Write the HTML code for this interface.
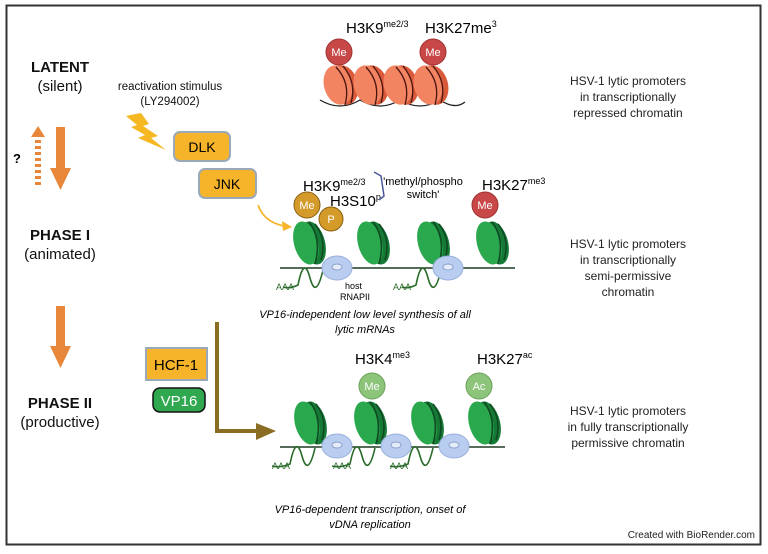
<!DOCTYPE html>
<html><head><meta charset="utf-8"><style>
html,body{margin:0;padding:0;background:#fff;}
svg{display:block;font-family:"Liberation Sans",sans-serif;}
</style></head><body>
<svg width="768" height="554" viewBox="0 0 768 554" xmlns="http://www.w3.org/2000/svg">
<defs>
<g id="nucg">
<ellipse cx="7" cy="0" rx="12" ry="22" fill="#157a35" transform="rotate(-15 7 0)"/>
<ellipse cx="0" cy="0" rx="12" ry="22" fill="#2aa84e" transform="rotate(-15 0 0)"/>
<path d="M3,-21 Q16,-4 9,21" stroke="#0f4a22" stroke-width="1.6" fill="none"/>
<path d="M9,-19 Q21,-4 15,17" stroke="#0f4a22" stroke-width="1.6" fill="none"/>
</g>
<g id="nuco">
<ellipse cx="6" cy="0" rx="14" ry="20" fill="#d85a3a" transform="rotate(-15 6 0)"/>
<ellipse cx="0" cy="0" rx="14" ry="20" fill="#f28462" transform="rotate(-15)"/>
<path d="M-2,-18 Q13,-2 7,20" stroke="#4a1510" stroke-width="1.3" fill="none"/>
<path d="M5,-19 Q19,-2 13,18" stroke="#4a1510" stroke-width="1.3" fill="none"/>
</g>
<g id="pol">
<ellipse cx="0" cy="0" rx="15" ry="12" fill="#b8cdf0" stroke="#9ab0dc" stroke-width="1"/>
<ellipse cx="0" cy="-1" rx="5" ry="3" fill="#e4ecfa" stroke="#8aa0cc" stroke-width="1"/>
</g>
</defs>
<rect x="6.5" y="5.5" width="754" height="539" fill="#fff" stroke="#333" stroke-width="2"/>

<g text-anchor="middle" fill="#111">
<text x="60" y="72" font-size="15" font-weight="bold">LATENT</text>
<text x="60" y="91" font-size="15">(silent)</text>
<text x="60" y="240" font-size="15" font-weight="bold">PHASE I</text>
<text x="60" y="259" font-size="15">(animated)</text>
<text x="60" y="408" font-size="15" font-weight="bold">PHASE II</text>
<text x="60" y="427" font-size="15">(productive)</text>
<text x="170" y="90" font-size="11.5">reactivation stimulus</text>
<text x="170" y="105" font-size="11.5">(LY294002)</text>
</g>
<text x="13" y="163" font-size="13" font-weight="bold">?</text>
<rect x="56" y="127" width="9" height="42" fill="#e8873a"/>
<polygon points="50,168 71,168 60.5,190" fill="#e8873a"/>
<polygon points="38,126 31,137 45,137" fill="#e8873a"/>
<line x1="38" y1="140" x2="38" y2="188" stroke="#e8873a" stroke-width="6" stroke-dasharray="3,3"/>
<rect x="56" y="306" width="9" height="42" fill="#e8873a"/>
<polygon points="50,346 71,346 60.5,368" fill="#e8873a"/>
<polygon points="126,116 141,113 149,124 143,126 158,136 151,138 166,150 138,138 145,135 131,127 137,125" fill="#f5b822"/>
<rect x="174" y="132" width="56" height="29" rx="6" fill="#f5b42a" stroke="#9aa8b8" stroke-width="2"/>
<text x="202" y="152" font-size="14" text-anchor="middle">DLK</text>
<rect x="199" y="169" width="57" height="29" rx="6" fill="#f5b42a" stroke="#9aa8b8" stroke-width="2"/>
<text x="227" y="189" font-size="14" text-anchor="middle">JNK</text>
<path d="M258,205 Q264,222 284,226" stroke="#f5b42a" stroke-width="1.8" fill="none"/>
<polygon points="292,227 282,221 283,231" fill="#f5b42a"/>
<rect x="146" y="348" width="61" height="32" fill="#f5b42a" stroke="#9aa8b8" stroke-width="2"/>
<text x="176" y="370" font-size="15" text-anchor="middle">HCF-1</text>
<rect x="153" y="388" width="52" height="24" rx="7" fill="#2fa84f" stroke="#111" stroke-width="1.5"/>
<text x="179" y="406" font-size="15" text-anchor="middle" fill="#fff">VP16</text>
<path d="M217,322 V431 H258" stroke="#8a6d22" stroke-width="4" fill="none"/>
<polygon points="256,423 276,431 256,440" fill="#8a6d22"/>

<path d="M320,100 Q340,112 360,100 Q380,112 400,100 Q420,112 440,100 Q455,110 465,102" stroke="#222" stroke-width="1.3" fill="none"/>
<use href="#nuco" x="338" y="85"/>
<use href="#nuco" x="368" y="85"/>
<use href="#nuco" x="398" y="85"/>
<use href="#nuco" x="428" y="85"/>
<circle cx="339" cy="52" r="13" fill="#c84848" stroke="#a03030"/>
<text x="339" y="56" font-size="11" fill="#fff" text-anchor="middle">Me</text>
<circle cx="433" cy="52" r="13" fill="#c84848" stroke="#a03030"/>
<text x="433" y="56" font-size="11" fill="#fff" text-anchor="middle">Me</text>
<text x="346" y="33" font-size="15">H3K9<tspan font-size="9" dy="-6">me2/3</tspan></text>
<text x="425" y="33" font-size="15">H3K27me<tspan font-size="9" dy="-6">3</tspan></text>

<g font-size="12" text-anchor="middle" fill="#222">
<text x="628" y="85">HSV-1 lytic promoters</text>
<text x="628" y="101">in transcriptionally</text>
<text x="628" y="117">repressed chromatin</text>
<text x="628" y="248">HSV-1 lytic promoters</text>
<text x="628" y="264">in transcriptionally</text>
<text x="628" y="280">semi-permissive</text>
<text x="628" y="296">chromatin</text>
<text x="628" y="415">HSV-1 lytic promoters</text>
<text x="628" y="431">in fully transcriptionally</text>
<text x="628" y="447">permissive chromatin</text>
<text x="755" y="538" font-size="10" text-anchor="end">Created with BioRender.com</text>
</g>

<path d="M280,268 H515" stroke="#1f3a22" stroke-width="1.6" fill="none"/>
<path d="M283,287 Q290,289 298,285 Q304,255 310,278 Q316,300 323,270" stroke="#2a6a2a" stroke-width="1.6" fill="none"/>
<path d="M402,287 Q408,289 416,285 Q422,255 428,278 Q434,300 441,270" stroke="#2a6a2a" stroke-width="1.6" fill="none"/>
<use href="#nucg" x="306" y="243"/>
<use href="#nucg" x="370" y="243"/>
<use href="#nucg" x="430" y="243"/>
<use href="#nucg" x="489" y="243"/>
<use href="#pol" x="337" y="268"/>
<use href="#pol" x="448" y="268"/>
<text x="276" y="290" font-size="9" fill="#2a6a2a">AAA</text>
<text x="393" y="290" font-size="9" fill="#2a6a2a">AAA</text>
<text x="345" y="289" font-size="9">host</text>
<text x="340" y="300" font-size="9">RNAPII</text>
<circle cx="307" cy="205" r="13" fill="#d49a2a" stroke="#8a6010"/>
<text x="307" y="209" font-size="11" fill="#fff" text-anchor="middle">Me</text>
<circle cx="331" cy="219" r="12" fill="#d49a2a" stroke="#8a6010"/>
<text x="331" y="223" font-size="11" fill="#fff" text-anchor="middle">P</text>
<circle cx="485" cy="205" r="13" fill="#c84848" stroke="#a03030"/>
<text x="485" y="209" font-size="11" fill="#fff" text-anchor="middle">Me</text>
<text x="303" y="191" font-size="15">H3K9<tspan font-size="9" dy="-6">me2/3</tspan></text>
<text x="330" y="206" font-size="15">H3S10<tspan font-size="9" dy="-6">p</tspan></text>
<path d="M374,172 L381,176 L384,196 L379,200" stroke="#4a5a9a" stroke-width="1.5" fill="none"/>
<text x="423" y="185" font-size="11" text-anchor="middle">'methyl/phospho</text>
<text x="423" y="198" font-size="11" text-anchor="middle">switch'</text>
<text x="482" y="190" font-size="15">H3K27<tspan font-size="9" dy="-6">me3</tspan></text>
<text x="365" y="318" font-size="11" font-style="italic" text-anchor="middle">VP16-independent low level synthesis of all</text>
<text x="365" y="333" font-size="11" font-style="italic" text-anchor="middle">lytic mRNAs</text>

<path d="M280,447 H505" stroke="#1f3a22" stroke-width="1.6" fill="none"/>
<path d="M272,466 Q280,468 290,464 Q296,434 302,456 Q308,478 315,448" stroke="#2a6a2a" stroke-width="1.6" fill="none"/>
<path d="M332,466 Q340,468 350,464 Q356,434 362,456 Q368,478 375,448" stroke="#2a6a2a" stroke-width="1.6" fill="none"/>
<path d="M390,466 Q398,468 408,464 Q414,434 420,456 Q426,478 433,448" stroke="#2a6a2a" stroke-width="1.6" fill="none"/>
<use href="#nucg" x="307" y="423"/>
<use href="#nucg" x="367" y="423"/>
<use href="#nucg" x="424" y="423"/>
<use href="#nucg" x="481" y="423"/>
<use href="#pol" x="337" y="446"/>
<use href="#pol" x="396" y="446"/>
<use href="#pol" x="454" y="446"/>
<text x="272" y="469" font-size="9" fill="#2a6a2a">AAA</text>
<text x="333" y="469" font-size="9" fill="#2a6a2a">AAA</text>
<text x="390" y="469" font-size="9" fill="#2a6a2a">AAA</text>
<circle cx="372" cy="386" r="13" fill="#8cc47a" stroke="#6aa058"/>
<text x="372" y="390" font-size="11" fill="#fff" text-anchor="middle">Me</text>
<circle cx="479" cy="386" r="13" fill="#8cc47a" stroke="#6aa058"/>
<text x="479" y="390" font-size="11" fill="#fff" text-anchor="middle">Ac</text>
<text x="355" y="364" font-size="15">H3K4<tspan font-size="9" dy="-6">me3</tspan></text>
<text x="477" y="364" font-size="15">H3K27<tspan font-size="9" dy="-6">ac</tspan></text>
<text x="370" y="513" font-size="11" font-style="italic" text-anchor="middle">VP16-dependent transcription, onset of</text>
<text x="370" y="528" font-size="11" font-style="italic" text-anchor="middle">vDNA replication</text>
</svg>
</body></html>
